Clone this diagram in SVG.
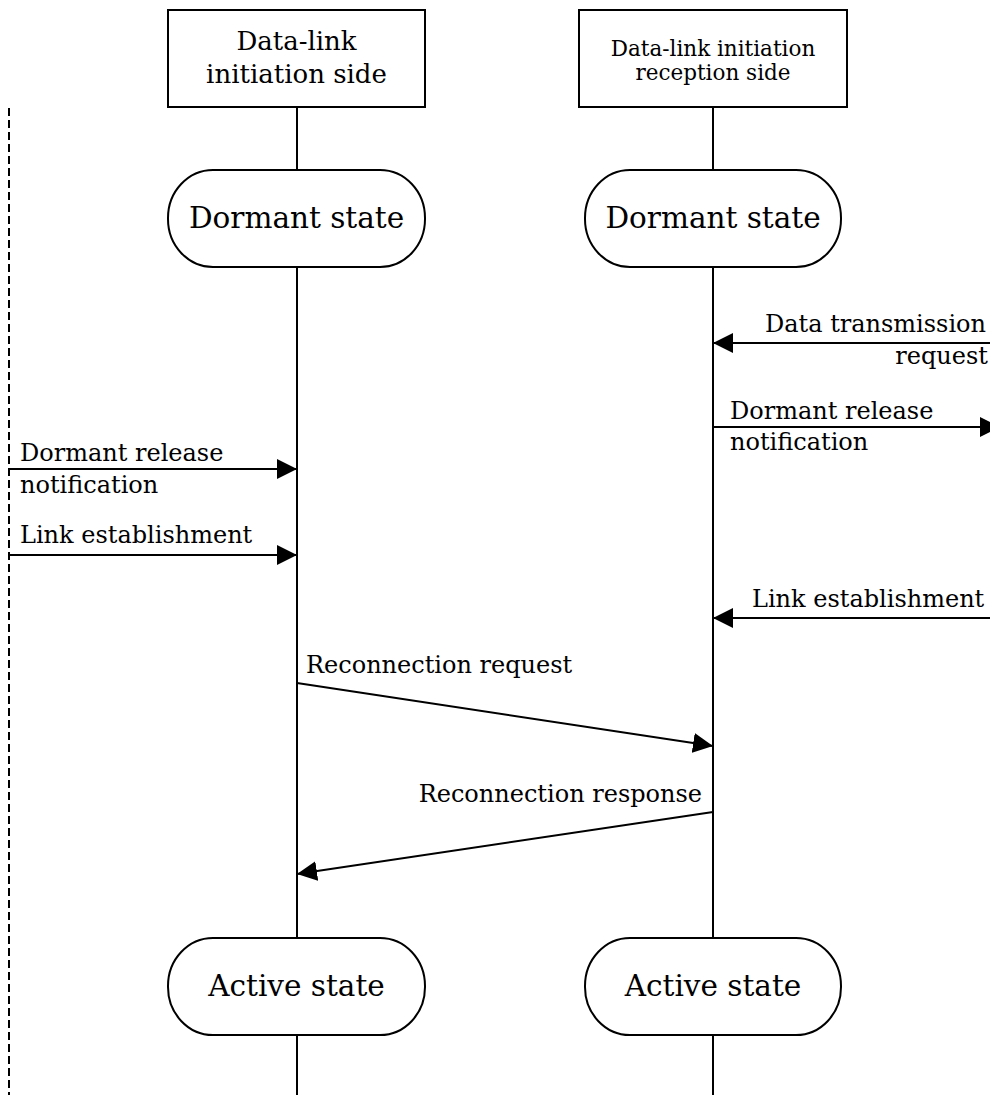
<svg xmlns="http://www.w3.org/2000/svg" width="990" height="1095" viewBox="0 0 990 1095">
  <style>
    text { font-family: "DejaVu Serif", "Noto Serif", serif; fill: #000; }
    .hdr { fill: #fff; stroke: #000; stroke-width: 2; }
    .state { fill: #fff; stroke: #000; stroke-width: 2; }
    .life { stroke: #000; stroke-width: 2; fill: none; }
    .msg { stroke: #000; stroke-width: 2; fill: none; marker-end: url(#arrow); }
    .lbl { font-size: 24px; }
    .stxt { font-size: 29.5px; }
  </style>
  <defs>
    <marker id="arrow" viewBox="0 0 20 20" refX="20" refY="10" markerWidth="20" markerHeight="20" markerUnits="userSpaceOnUse" orient="auto">
      <path d="M0,0 L20,10 L0,20 Z" fill="#000"/>
    </marker>
  </defs>
  <rect width="990" height="1095" fill="#fff"/>

  <!-- lifelines, boundary and messages -->
  <g id="connectors">
    <line x1="9" y1="108" x2="9" y2="1095" class="life" stroke-dasharray="8 4"/>
    <line x1="297" y1="107" x2="297" y2="1095" class="life"/>
    <line x1="713" y1="107" x2="713" y2="1095" class="life"/>

    <line x1="9" y1="469" x2="297" y2="469" class="msg"/>
    <line x1="9" y1="555" x2="297" y2="555" class="msg"/>
    <line x1="1000" y1="343" x2="713" y2="343" class="msg"/>
    <line x1="713" y1="427" x2="1000" y2="427" class="msg"/>
    <line x1="1000" y1="618" x2="713" y2="618" class="msg"/>
    <line x1="297" y1="683" x2="713" y2="746" class="msg"/>
    <line x1="713" y1="812" x2="297" y2="874" class="msg"/>
  </g>

  <!-- message labels -->
  <g id="labels">
    <text class="lbl" x="20" y="461">Dormant release</text>
    <text class="lbl" x="20" y="493">notification</text>
    <text class="lbl" x="20" y="543">Link establishment</text>
    <text class="lbl" x="765" y="332">Data transmission</text>
    <text class="lbl" x="988" y="364" text-anchor="end">request</text>
    <text class="lbl" x="730" y="419">Dormant release</text>
    <text class="lbl" x="730" y="450">notification</text>
    <text class="lbl" x="752" y="607">Link establishment</text>
    <text class="lbl" x="306" y="673">Reconnection request</text>
    <text class="lbl" x="702" y="802" text-anchor="end">Reconnection response</text>
  </g>

  <g id="initiator">
    <rect x="168" y="10" width="257" height="97" class="hdr"/>
    <text x="296.5" y="50" text-anchor="middle" style="font-size:26px">Data-link</text>
    <text x="296.5" y="83" text-anchor="middle" style="font-size:26px">initiation side</text>
  </g>
  <g id="receiver">
    <rect x="579" y="10" width="268" height="97" class="hdr"/>
    <text x="713" y="56" text-anchor="middle" style="font-size:21.5px">Data-link initiation</text>
    <text x="713" y="80" text-anchor="middle" style="font-size:21.5px">reception side</text>
  </g>
  <g id="initiator-dormant">
    <rect x="168" y="170" width="257" height="97" rx="45" ry="48" class="state"/>
    <text x="296.5" y="228" text-anchor="middle" class="stxt">Dormant state</text>
  </g>
  <g id="receiver-dormant">
    <rect x="585" y="170" width="256" height="97" rx="45" ry="48" class="state"/>
    <text x="713" y="228" text-anchor="middle" class="stxt">Dormant state</text>
  </g>
  <g id="initiator-active">
    <rect x="168" y="938" width="257" height="97" rx="45" ry="48" class="state"/>
    <text x="296.5" y="996" text-anchor="middle" class="stxt">Active state</text>
  </g>
  <g id="receiver-active">
    <rect x="585" y="938" width="256" height="97" rx="45" ry="48" class="state"/>
    <text x="713" y="996" text-anchor="middle" class="stxt">Active state</text>
  </g>
</svg>
